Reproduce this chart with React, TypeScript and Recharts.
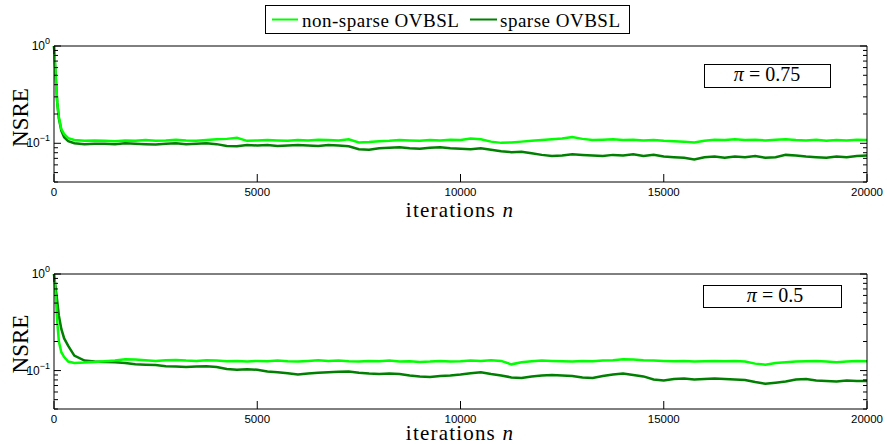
import { LineChart, Line, XAxis, YAxis } from 'recharts';

const W = 887;
const H = 444;
const LIGHT = '#00ff00';
const DARK = '#008000';
const SERIF = '"Liberation Serif", "Times New Roman", serif';
const SANS = '"Liberation Sans", Arial, sans-serif';

// iteration index n (dense at the start where the curves drop)
const ITERS = [
  0, 40, 80, 120, 180, 250, 350, 500, 750, 1000,
  1250, 1500, 1750, 2000, 2250, 2500, 2750, 3000, 3250, 3500, 3750, 4000,
  4250, 4500, 4750, 5000, 5250, 5500, 5750, 6000, 6250, 6500, 6750, 7000,
  7250, 7500, 7750, 8000, 8250, 8500, 8750, 9000, 9250, 9500, 9750, 10000,
  10250, 10500, 10750, 11000, 11250, 11500, 11750, 12000, 12250, 12500, 12750, 13000,
  13250, 13500, 13750, 14000, 14250, 14500, 14750, 15000, 15250, 15500, 15750, 16000,
  16250, 16500, 16750, 17000, 17250, 17500, 17750, 18000, 18250, 18500, 18750, 19000,
  19250, 19500, 19750, 20000,
];

// pi = 0.75
const NS_75 = [
  1.0, 0.5, 0.26, 0.185, 0.14, 0.124, 0.113, 0.108, 0.106, 0.107,
  0.106, 0.105, 0.107, 0.106, 0.108, 0.106, 0.107, 0.109, 0.107, 0.106, 0.108, 0.110,
  0.111, 0.114, 0.106, 0.107, 0.108, 0.107, 0.106, 0.108, 0.107, 0.109, 0.108, 0.107,
  0.110, 0.102, 0.103, 0.105, 0.106, 0.108, 0.107, 0.106, 0.108, 0.107, 0.109, 0.108,
  0.112, 0.110, 0.104, 0.101, 0.102, 0.104, 0.106, 0.108, 0.110, 0.112, 0.116, 0.111,
  0.108, 0.109, 0.110, 0.108, 0.109, 0.107, 0.108, 0.106, 0.105, 0.104, 0.102, 0.106,
  0.109, 0.108, 0.110, 0.108, 0.109, 0.107, 0.109, 0.110, 0.108, 0.107, 0.109, 0.106,
  0.108, 0.107, 0.109, 0.108,
];
const SP_75 = [
  1.0, 0.5, 0.26, 0.18, 0.135, 0.115, 0.105, 0.100, 0.098, 0.099,
  0.099, 0.098, 0.100, 0.099, 0.098, 0.097, 0.099, 0.100, 0.098, 0.099, 0.100, 0.098,
  0.094, 0.093, 0.096, 0.095, 0.096, 0.094, 0.095, 0.096, 0.095, 0.094, 0.096, 0.095,
  0.093, 0.087, 0.086, 0.089, 0.090, 0.091, 0.089, 0.088, 0.090, 0.091, 0.089, 0.088,
  0.087, 0.089, 0.086, 0.083, 0.081, 0.082, 0.079, 0.076, 0.074, 0.075, 0.077, 0.076,
  0.075, 0.074, 0.076, 0.075, 0.077, 0.074, 0.076, 0.073, 0.072, 0.071, 0.068, 0.072,
  0.073, 0.071, 0.073, 0.072, 0.074, 0.071, 0.072, 0.076, 0.075, 0.073, 0.072, 0.071,
  0.073, 0.072, 0.074, 0.075,
];

// pi = 0.5
const NS_50 = [
  1.0, 0.6, 0.32, 0.2, 0.155, 0.138, 0.124, 0.12, 0.121, 0.123,
  0.125, 0.127, 0.131, 0.130, 0.128, 0.126, 0.128, 0.129, 0.127, 0.126, 0.128, 0.127,
  0.125, 0.126, 0.124, 0.126, 0.125, 0.127, 0.125, 0.124, 0.126, 0.128, 0.126, 0.127,
  0.125, 0.124, 0.126, 0.125, 0.127, 0.124, 0.125, 0.123, 0.124, 0.126, 0.124, 0.125,
  0.127, 0.126, 0.128, 0.126, 0.116, 0.122, 0.125, 0.127, 0.126, 0.125, 0.124, 0.126,
  0.125, 0.127, 0.128, 0.131, 0.130, 0.128, 0.127, 0.126, 0.125, 0.126, 0.124, 0.125,
  0.126, 0.125, 0.126, 0.124, 0.118, 0.115, 0.120, 0.122, 0.124, 0.125, 0.126, 0.124,
  0.122, 0.124, 0.126, 0.125,
];
const SP_50 = [
  1.0, 0.72, 0.52, 0.37, 0.27, 0.215, 0.18, 0.143, 0.127, 0.124,
  0.123, 0.122, 0.120, 0.116, 0.115, 0.114, 0.111, 0.110, 0.109, 0.110, 0.111, 0.109,
  0.104, 0.102, 0.103, 0.102, 0.098, 0.096, 0.094, 0.091, 0.093, 0.095, 0.096, 0.097,
  0.098, 0.095, 0.093, 0.092, 0.093, 0.092, 0.089, 0.087, 0.086, 0.088, 0.089, 0.091,
  0.094, 0.096, 0.092, 0.089, 0.085, 0.084, 0.087, 0.089, 0.090, 0.089, 0.088, 0.085,
  0.084, 0.088, 0.091, 0.093, 0.090, 0.087, 0.081, 0.079, 0.082, 0.083, 0.081, 0.082,
  0.083, 0.082, 0.081, 0.080, 0.076, 0.073, 0.075, 0.077, 0.081, 0.082, 0.079, 0.078,
  0.077, 0.079, 0.078, 0.078,
];

const X_TICKS = [0, 5000, 10000, 15000, 20000];
const Y_TICKS = [0.04, 0.05, 0.06, 0.07, 0.08, 0.09, 0.1, 0.2, 0.3, 0.4, 0.5, 0.6, 0.7, 0.8, 0.9, 1];
const LEGEND = ['non-sparse OVBSL', 'sparse OVBSL'];

const rows = (ns: number[], sp: number[]) => ITERS.map((n, i) => ({ n, ns: ns[i], sp: sp[i] }));

const isMajor = (v: number) => Math.abs(Math.log10(v) - Math.round(Math.log10(v))) < 1e-6;

function LeftTick({ x, y, payload }: any) {
  const v = payload.value;
  const major = isMajor(v);
  const exp = Math.round(Math.log10(v));
  return (
    <g>
      <line x1={x} x2={x + (major ? 7 : 4)} y1={y} y2={y} stroke="#000" />
      {major && (
        <text x={x - 4} y={y + 4} textAnchor="end" fontFamily={SANS} fontSize={12} fill="#000">
          10<tspan dy={-6} fontSize={9}>{exp === 0 ? '0' : '\u2212' + Math.abs(exp)}</tspan>
        </text>
      )}
    </g>
  );
}

function RightTick({ x, y, payload }: any) {
  const major = isMajor(payload.value);
  return <line x1={x} x2={x - (major ? 7 : 4)} y1={y} y2={y} stroke="#000" />;
}

function BottomTick({ x, y, payload }: any) {
  return (
    <g>
      <line x1={x} x2={x} y1={y} y2={y - 8} stroke="#000" />
      <text x={x} y={y + 14} textAnchor="middle" fontFamily={SANS} fontSize={11.5} fill="#000">
        {payload.value}
      </text>
    </g>
  );
}

function TopTick({ x, y }: any) {
  return <line x1={x} x2={x} y1={y} y2={y + 8} stroke="#000" />;
}

function Panel({ data, top, height, plotTop, plotBottom }: any) {
  const axis = { stroke: '#000', strokeWidth: 1 };
  return (
    <div style={{ position: 'absolute', left: 0, top, width: W, height }}>
      <LineChart
        width={W}
        height={height}
        data={data}
        margin={{ top: plotTop - 1, right: 19, bottom: 0, left: 0 }}
      >
        <XAxis
          type="number" dataKey="n" domain={[0, 20000]} ticks={X_TICKS} interval={0}
          height={height - plotBottom} tickSize={0} tickMargin={0} tickLine={false}
          axisLine={axis} tick={<BottomTick />}
        />
        <XAxis
          xAxisId="top" orientation="top" type="number" domain={[0, 20000]} ticks={X_TICKS}
          interval={0} height={1} tickSize={0} tickMargin={0} tickLine={false}
          axisLine={axis} tick={<TopTick />}
        />
        <YAxis
          scale="log" type="number" domain={[0.04, 1]} ticks={Y_TICKS} interval={0}
          allowDataOverflow width={54} tickSize={0} tickMargin={0} tickLine={false}
          axisLine={axis} tick={<LeftTick />}
        />
        <YAxis
          yAxisId="right" orientation="right" scale="log" type="number" domain={[0.04, 1]}
          ticks={Y_TICKS} interval={0} allowDataOverflow width={1} tickSize={0} tickMargin={0}
          tickLine={false} axisLine={axis} tick={<RightTick />}
        />
        <Line dataKey="sp" stroke={DARK} strokeWidth={2.5} dot={false} isAnimationActive={false} />
        <Line dataKey="ns" stroke={LIGHT} strokeWidth={2.5} dot={false} isAnimationActive={false} />
      </LineChart>
    </div>
  );
}

export default function App() {
  const txt = { fontFamily: SERIF, fill: '#000' };
  return (
    <div style={{ position: 'absolute', left: 0, top: 0, width: W, height: H, background: '#fff' }}>
      <Panel data={rows(NS_75, SP_75)} top={0} height={230} plotTop={46} plotBottom={182} />
      <Panel data={rows(NS_50, SP_50)} top={230} height={214} plotTop={44} plotBottom={179} />
      <svg width={W} height={H} style={{ position: 'absolute', left: 0, top: 0, pointerEvents: 'none' }}>
        <rect x={265.5} y={5.5} width={364} height={28} fill="#fff" stroke="#000" />
        <line x1={272} x2={298} y1={19.5} y2={19.5} stroke={LIGHT} strokeWidth={2} />
        <text x={302} y={26.5} fontSize={19} letterSpacing={0.5} {...txt}>{LEGEND[0]}</text>
        <line x1={470} x2={497} y1={19.5} y2={19.5} stroke={DARK} strokeWidth={2} />
        <text x={500} y={26.5} fontSize={19} letterSpacing={0.5} {...txt}>{LEGEND[1]}</text>

        <rect x={704.5} y={64.5} width={126} height={23} fill="#fff" stroke="#000" />
        <text x={767} y={81} fontSize={20} textAnchor="middle" {...txt} xmlSpace="preserve">
          <tspan fontStyle="italic">π</tspan> = 0.75
        </text>
        <rect x={703.5} y={285.5} width={138} height={22} fill="#fff" stroke="#000" />
        <text x={775} y={302} fontSize={20} textAnchor="middle" {...txt} xmlSpace="preserve">
          <tspan fontStyle="italic">π</tspan> = 0.5
        </text>

        {[117.5, 344].map((cy) => (
          <text key={cy} x={20.5} y={cy} fontSize={23} textAnchor="middle" dominantBaseline="central"
            transform={`rotate(-90 20.5 ${cy})`} {...txt}>NSRE</text>
        ))}
        {[217, 440].map((by) => (
          <text key={by} x={460} y={by} fontSize={21} textAnchor="middle" letterSpacing={1.2} {...txt}>
            iterations <tspan fontStyle="italic">n</tspan>
          </text>
        ))}
      </svg>
    </div>
  );
}
